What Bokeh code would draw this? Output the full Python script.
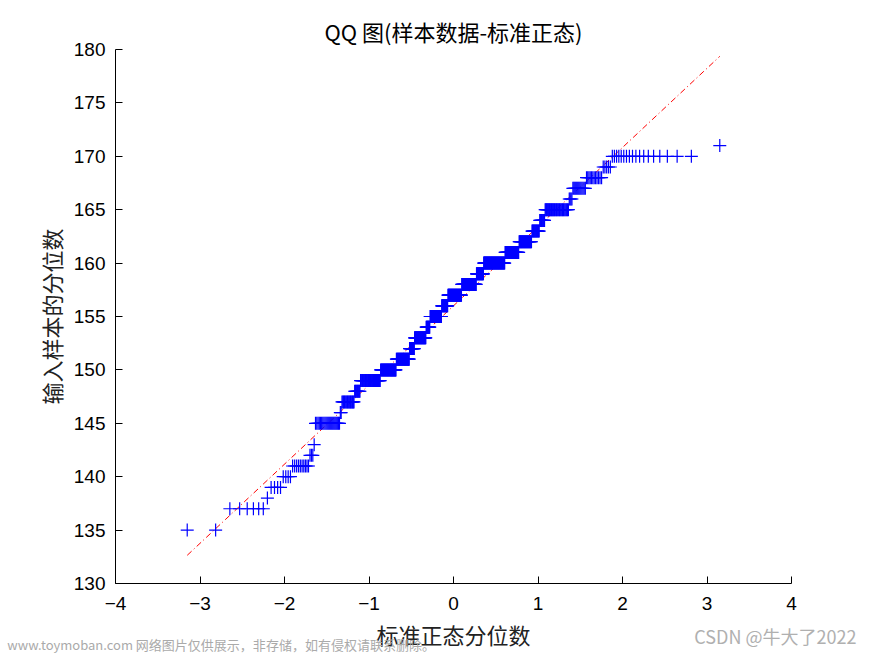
from statistics import NormalDist
import numpy as np
from bokeh.plotting import figure
from bokeh.models import Range1d, FixedTicker, LinearAxis
from bokeh.embed import file_html
from bokeh.resources import INLINE

# sample values (integer heights) and how many times each occurs
values = list(range(135, 172))
counts = [2, 0, 6, 1, 4, 4, 10, 3, 1, 0,
          24, 2, 17, 9, 36, 34, 32, 13, 31, 11,
          33, 18, 40, 42, 20, 55, 32, 26, 14, 9,
          33, 4, 13, 12, 5, 18, 1]
x_ticks = [-4, -3, -2, -1, 0, 1, 2, 3, 4]
y_ticks = [130, 135, 140, 145, 150, 155, 160, 165, 170, 175, 180]

title_text = "QQ 图(样本数据-标准正态)"
x_label = "标准正态分位数"
y_label = "输入样本的分位数"
wm_left = "www.toymoban.com 网络图片仅供展示，非存储，如有侵权请联系删除。"
wm_right = "CSDN @牛大了2022"
wm_left_at = -2.75   # where the watermark texts sit along the bottom
wm_right_at = 3.81

sample = np.sort(np.repeat(values, counts))
n = len(sample)
nd = NormalDist()
theo = np.array([nd.inv_cdf((i + 0.5) / n) for i in range(n)])

# reference line through the quartiles
q1, q3 = np.percentile(sample, [25, 75])
z1, z3 = nd.inv_cdf(0.25), nd.inv_cdf(0.75)
slope = (q3 - q1) / (z3 - z1)
center = q1 - slope * z1
lx = np.array([theo.min(), theo.max()])
ly = center + slope * lx

CJK = "Noto Sans CJK SC"
LAT = "Liberation Sans"

p = figure(width=875, height=656, output_backend="svg", toolbar_location=None,
           x_range=Range1d(-4, 4), y_range=Range1d(130, 180),
           min_border_left=115, min_border_right=84, min_border_top=49, min_border_bottom=73)

p.title.text = title_text
p.title.align = "center"
p.title.text_font = CJK
p.title.text_font_size = "22px"
p.title.text_font_style = "normal"
p.title.text_color = "#000000"
p.title.offset = 0
p.title.standoff = 6

p.outline_line_color = None
p.grid.visible = False
p.background_fill_color = "white"
p.border_fill_color = "white"

axA = p.xaxis[0]
axY = p.yaxis[0]
for ax in (axA, axY):
    ax.major_tick_in = 7
    ax.major_tick_out = 0
    ax.minor_tick_line_color = None
    ax.axis_line_color = "#000000"
    ax.major_tick_line_color = "#000000"
    ax.major_label_text_font = LAT
    ax.major_label_text_font_size = "19px"
    ax.major_label_text_color = "#000000"
    ax.major_label_standoff = 10
axA.major_label_standoff = 13

axA.ticker = FixedTicker(ticks=x_ticks)
axY.ticker = FixedTicker(ticks=y_ticks)
axY.axis_label = y_label
axY.axis_label_text_font = CJK
axY.axis_label_text_font_size = "22px"
axY.axis_label_text_font_style = "normal"
axY.axis_label_text_color = "#222222"
axY.axis_label_standoff = 4

# second bottom axis: carries the x label and the right-hand watermark side by side
axB = LinearAxis(ticker=FixedTicker(ticks=[wm_right_at]),
                 major_label_overrides={wm_right_at: wm_right},
                 axis_line_color=None, major_tick_line_color=None, minor_tick_line_color=None,
                 major_tick_in=0, major_tick_out=0, major_label_standoff=10,
                 major_label_text_font=CJK, major_label_text_font_size="18px",
                 major_label_text_color="#b0b0b0",
                 axis_label=x_label, axis_label_text_font=CJK, axis_label_text_font_size="22px",
                 axis_label_text_font_style="normal", axis_label_text_color="#222222",
                 axis_label_standoff=-34)
# third bottom axis: the left-hand watermark
axC = LinearAxis(ticker=FixedTicker(ticks=[wm_left_at]),
                 major_label_overrides={wm_left_at: wm_left},
                 axis_line_color=None, major_tick_line_color=None, minor_tick_line_color=None,
                 major_tick_in=0, major_tick_out=0, major_label_standoff=-18,
                 major_label_text_font=CJK, major_label_text_font_size="13px",
                 major_label_text_color="#aaaaaa")
p.add_layout(axB, "below")
p.add_layout(axC, "below")

p.line(lx, ly, line_color="#ff0000", line_width=1, line_dash="6 3 1 3")
p.scatter(theo, sample, marker="cross", size=13, line_color="#0000ff", line_width=1.2)

open("out.html", "w").write(file_html(p, INLINE))
